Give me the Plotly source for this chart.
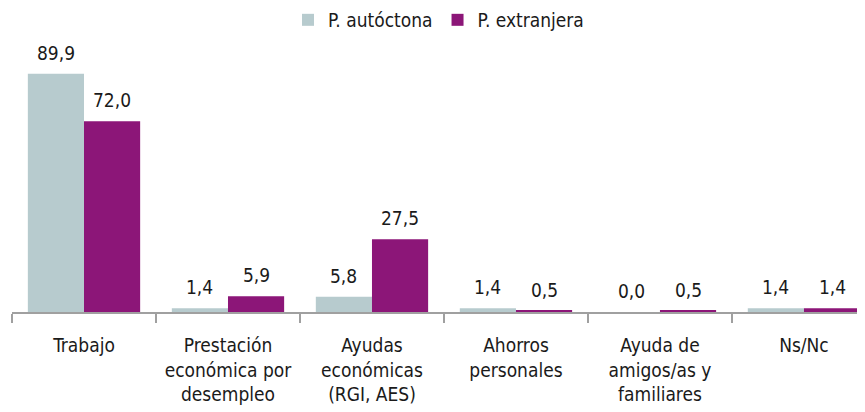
import plotly.graph_objects as go

categories = ["Trabajo", "Prestación<br>económica por<br>desempleo", "Ayudas<br>económicas<br>(RGI, AES)",
              "Ahorros<br>personales", "Ayuda de<br>amigos/as y<br>familiares", "Ns/Nc"]
autoctona = [89.9, 1.4, 5.8, 1.4, 0.0, 1.4]
extranjera = [72.0, 5.9, 27.5, 0.5, 0.5, 1.4]
series_names = ["P. autóctona", "P. extranjera"]
colors = ["#B7CBCE", "#8C1678"]

FONT = "Liberation Sans Narrow, DejaVu Sans Condensed, Arial Narrow, sans-serif"
FS = 19

fig = go.Figure()
for name, vals, col in zip(series_names, [autoctona, extranjera], colors):
    fig.add_trace(go.Bar(x=categories, y=vals, name=name, marker_color=col,
                         marker_line_width=0))

def fmt(v):
    return f"{v:.1f}".replace(".", ",")

for i, c in enumerate(categories):
    for j, vals in enumerate([autoctona, extranjera]):
        fig.add_annotation(x=i + (-0.5 + j) * 0.39, y=vals[i], xref="x", yref="y",
                           text=fmt(vals[i]), showarrow=False, yanchor="bottom",
                           yshift=8, font=dict(size=FS, color="#1a1a1a", family=FONT))

fig.update_layout(
    width=857, height=404,
    margin=dict(l=4, r=0, t=39, b=100, autoexpand=False),
    barmode="group", bargap=0.22, bargroupgap=0,
    plot_bgcolor="white", paper_bgcolor="white",
    font=dict(family=FONT, size=FS, color="#1a1a1a"),
    showlegend=True,
    legend=dict(orientation="h", x=0.5, xanchor="center", y=1.102, yanchor="middle",
                yref="paper", font=dict(size=FS, family=FONT),
                itemwidth=30, traceorder="normal"),
)
fig.update_xaxes(type="category", range=[-0.5, 5.424], showline=True, linecolor="#a0a0a0",
                 linewidth=2, ticks="outside", tickson="boundaries", ticklen=9,
                 tickcolor="#a0a0a0", tickwidth=2, showgrid=False, ticklabelstandoff=15,
                 tickfont=dict(size=FS, family=FONT, color="#1a1a1a"))
fig.update_yaxes(range=[0, 100], visible=False, showgrid=False, zeroline=False)

fig.write_html("out.html")
